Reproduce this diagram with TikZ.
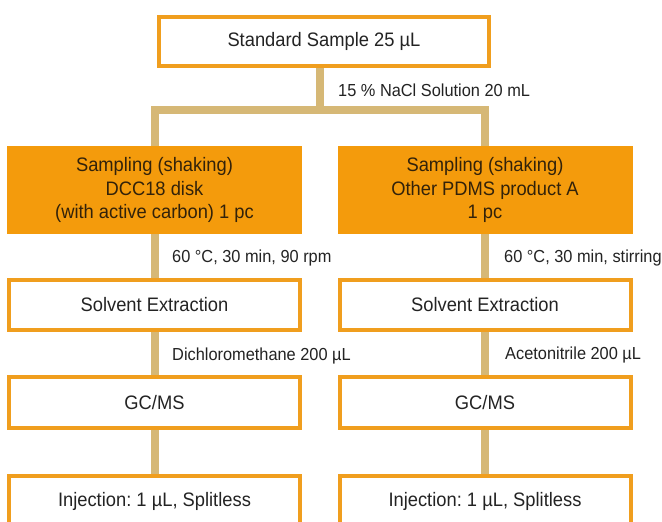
\documentclass[tikz,border=0pt]{standalone}
\usepackage{fontspec}
\setmainfont{Liberation Sans}[FakeStretch=0.94]
\usetikzlibrary{backgrounds}
\frenchspacing
\definecolor{orfill}{RGB}{244,155,12}
\definecolor{orline}{RGB}{240,158,30}
\definecolor{linktan}{RGB}{214,184,118}
\definecolor{txtgray}{RGB}{35,35,35}
\definecolor{txtdark}{RGB}{50,34,10}
\begin{document}
\begin{tikzpicture}[x=1pt,y=-1pt,
  wbox/.style={draw=orline, line width=4pt, fill=white, minimum width=291pt, minimum height=50pt,
    inner sep=0pt, font=\fontsize{19.5}{23}\selectfont, text=txtgray},
  obox/.style={fill=orfill, minimum width=295pt, minimum height=88pt, inner sep=0pt,
    align=center, font=\fontsize{19.5}{23.5}\selectfont, text=txtdark},
  lbl/.style={anchor=west, inner sep=0pt, font=\fontsize{17.4}{20}\selectfont, text=txtgray},
  link/.style={draw=linktan, line width=8pt, line join=miter}]
\useasboundingbox (0,0) rectangle (662,522);
\clip (0,0) rectangle (662,522);

\node[wbox, minimum width=330pt, minimum height=49pt] (top) at (324,41.5) {Standard Sample 25 µL};
\node[obox] (samp1) at (154.5,190) {Sampling (shaking)\\DCC18 disk\\(with active carbon) 1 pc};
\node[obox] (samp2) at (485,190) {Sampling (shaking)\\Other PDMS product A\\1 pc};
\node[wbox] (solv1) at (154.5,305) {Solvent Extraction};
\node[wbox] (solv2) at (485,305) {Solvent Extraction};
\node[wbox, minimum height=51pt] (gc1) at (154.5,402.5) {GC/MS};
\node[wbox, minimum height=51pt] (gc2) at (485,402.5) {GC/MS};
\node[wbox, minimum height=51pt] (inj1) at (154.5,501.5) {Injection: 1 µL, Splitless};
\node[wbox, minimum height=51pt] (inj2) at (485,501.5) {Injection: 1 µL, Splitless};

\node[lbl] (l0) at (338,90) {15 \% NaCl Solution 20 mL};
\node[lbl] (l1) at (172,258) {60 °C, 30 min, 90 rpm};
\node[lbl] (l2) at (504,258) {60 °C, 30 min, stirring};
\node[lbl] (l3) at (172,356) {Dichloromethane 200 µL};
\node[lbl] (l4) at (505,355) {Acetonitrile 200 µL};

\coordinate (split) at (320,110);
\begin{scope}[on background layer]
\fill[white] (0,0) rectangle (662,522);
\draw[link] ([xshift=-4pt]top.south) -- (split);
\draw[link] (samp1.north) |- (split) -| (samp2.north);
\draw[link] (samp1.south) -- (solv1.north);
\draw[link] (samp2.south) -- (solv2.north);
\draw[link] (solv1.south) -- (gc1.north);
\draw[link] (solv2.south) -- (gc2.north);
\draw[link] (gc1.south) -- (inj1.north);
\draw[link] (gc2.south) -- (inj2.north);
\end{scope}
\end{tikzpicture}
\end{document}
